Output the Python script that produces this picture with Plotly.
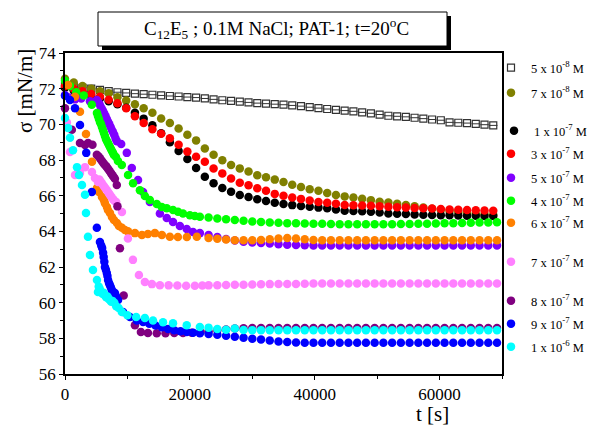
import plotly.graph_objects as go

W, H = 589, 426

# ---- time grids [s] ----
t_long = [0, 1400, 2800, 4200, 5600, 7000, 8400, 9800, 11200, 12600,
          14000, 15400, 16800, 18200, 19600, 21000, 22400, 23800, 25200, 26600,
          28000, 29400, 30800, 32200, 33600, 35000, 36400, 37800, 39200, 40600,
          42000, 43400, 44800, 46200, 47600, 49000, 50400, 51800, 53200, 54600,
          56000, 57400, 58800, 60200, 61600, 63000, 64400, 65800, 67200, 68600]

t_tail = [23000, 24400, 25800, 27200, 28600, 30000, 31400, 32800, 34200, 35600,
          37000, 38400, 39800, 41200, 42600, 44000, 45400, 46800, 48200, 49600,
          51000, 52400, 53800, 55200, 56600, 58000, 59400, 60800, 62200, 63600,
          65000, 66400, 67800, 69200]

# ---- surface tension [mN/m] ----
s_5e8 = [72.15, 72.1, 72.05, 72.0, 71.93, 71.86, 71.8, 71.76, 71.72, 71.69,
         71.66, 71.62, 71.59, 71.56, 71.53, 71.5, 71.45, 71.4, 71.35, 71.31,
         71.27, 71.23, 71.19, 71.16, 71.13, 71.1, 71.06, 71.02, 70.96, 70.91,
         70.86, 70.81, 70.77, 70.73, 70.67, 70.62, 70.55, 70.48, 70.45, 70.42,
         70.37, 70.32, 70.27, 70.23, 70.11, 70.09, 70.07, 70.03, 69.98, 69.94]

s_7e8 = [72.55, 72.35, 72.15, 72.0, 71.85, 71.75, 71.52, 71.33, 71.12, 70.9,
         70.65, 70.33, 70.07, 69.77, 69.42, 69.1, 68.65, 68.3, 67.98, 67.72,
         67.53, 67.36, 67.15, 67.03, 66.9, 66.77, 66.61, 66.48, 66.36, 66.27,
         66.15, 66.04, 65.96, 65.9, 65.83, 65.75, 65.66, 65.61, 65.55, 65.47,
         65.4, 65.33, 65.27, 65.21, 65.15, 65.09, 65.04, 64.99, 64.96, 64.93]

s_1e7 = [72.05, 71.9, 71.76, 71.6, 71.45, 71.3, 71.12, 70.93, 70.65, 70.32,
         69.95, 69.5, 69.0, 68.5, 68.05, 67.55, 67.06, 66.7, 66.43, 66.22,
         66.04, 65.92, 65.8, 65.7, 65.6, 65.53, 65.47, 65.42, 65.38, 65.33,
         65.29, 65.22, 65.16, 65.14, 65.12, 65.1, 65.05, 65.0, 64.99, 64.97,
         64.95, 64.93, 64.91, 64.9, 64.9, 64.89, 64.88, 64.87, 64.86, 64.86]

s_3e7 = [72.15, 72.0, 71.85, 71.7, 71.55, 71.38, 71.18, 70.9, 70.45, 70.08,
         69.73, 69.47, 69.22, 68.86, 68.47, 68.18, 67.9, 67.52, 67.25, 66.96,
         66.73, 66.58, 66.42, 66.27, 66.1, 65.99, 65.9, 65.82, 65.73, 65.65,
         65.6, 65.55, 65.48, 65.46, 65.45, 65.44, 65.41, 65.38, 65.35, 65.33,
         65.31, 65.29, 65.28, 65.25, 65.23, 65.21, 65.19, 65.18, 65.17, 65.15]

t_5e7 = [0, 700, 1600, 2600, 4000, 5100, 5300, 5500, 5700, 5900, 6100, 6300,
         6500, 6700, 6900, 7100, 7300, 7500, 7700, 7900, 8100, 8300, 9000, 9900,
         10700, 11700, 12500, 13600, 15200, 16300, 17300, 18400, 19500, 20500, 21600]
s_5e7 = [71.65, 71.5, 71.4, 71.45, 71.3, 71.36, 71.25, 71.15, 71.0, 70.87, 70.73, 70.6,
         70.45, 70.3, 70.15, 70.0, 69.85, 69.7, 69.55, 69.4, 69.2, 69.05, 68.9, 68.4,
         67.55, 66.88, 66.2, 65.64, 65.0, 64.75, 64.52, 64.3, 64.13, 63.96, 63.9,
         63.8, 63.68, 63.57, 63.48, 63.42, 63.38, 63.35, 63.32, 63.28, 63.25,
         63.23, 63.22, 63.21, 63.2, 63.2, 63.2, 63.2, 63.2, 63.2, 63.2,
         63.2, 63.2, 63.2, 63.2, 63.2, 63.2, 63.2, 63.2, 63.2, 63.2,
         63.2, 63.2, 63.2, 63.2]

t_4e7 = [0, 800, 1800, 3000, 4300, 5120, 5280, 5440, 5600, 5760, 5920, 6080,
         6240, 6400, 6560, 6720, 6880, 7040, 7200, 7360, 7520, 7680, 7840, 8160,
         8480, 9100, 10100, 10900, 12000, 12800, 13600, 14700, 15500, 16300, 17300,
         18100, 18900, 20000, 20800, 21600]
s_4e7 = [72.45, 72.15, 71.8, 71.62, 71.1, 70.63, 70.47, 70.3, 70.13, 70.02, 69.85, 69.68,
         69.51, 69.34, 69.18, 69.06, 68.95, 68.84, 68.73, 68.62, 68.5, 68.4, 68.28, 68.17,
         67.95, 67.72, 67.16, 66.7, 66.3, 65.98, 65.76, 65.53, 65.37, 65.3, 65.2,
         65.1, 65.0, 64.9, 64.86, 64.82,
         64.77, 64.72, 64.68, 64.63, 64.59, 64.55, 64.52, 64.5, 64.48, 64.46,
         64.45, 64.44, 64.43, 64.42, 64.41, 64.4, 64.4, 64.4, 64.4, 64.4,
         64.4, 64.4, 64.41, 64.41, 64.42, 64.43, 64.44, 64.45, 64.46, 64.47,
         64.48, 64.49, 64.5, 64.51]

t_6e7 = [480, 1600, 2400, 3360, 4320, 5120, 5440, 5920, 6240, 6400, 6720, 6880,
         7200, 7520, 7840, 8320, 8640, 9120, 9600, 10080, 11200, 12320, 13280,
         14400, 15520, 16800, 18080, 19520, 21120]
s_6e7 = [72.2, 71.55, 70.7, 69.46, 67.9, 66.43, 66.2, 65.93, 65.75, 65.58, 65.36, 65.2,
         65.03, 64.8, 64.63, 64.47, 64.3, 64.2, 64.07, 64.0, 63.9, 63.8, 63.85,
         63.9, 63.8, 63.7, 63.68, 63.68, 63.7,
         63.62, 63.58, 63.54, 63.5, 63.5, 63.5, 63.52, 63.56, 63.6, 63.62,
         63.6, 63.56, 63.52, 63.5, 63.5, 63.5, 63.5, 63.5, 63.5, 63.5,
         63.5, 63.5, 63.5, 63.5, 63.5, 63.5, 63.5, 63.5, 63.5, 63.5,
         63.5, 63.5, 63.5, 63.5]

t_7e7 = [300, 800, 1600, 2400, 3200, 4320, 4800, 5280, 5500, 5700, 5900, 6100,
         6300, 6500, 6700, 6900, 7100, 7300, 7500, 7700, 7900, 8200, 9120, 10080,
         10880, 11840, 12800, 13920, 15200, 16600, 18000, 19400, 20800, 22000]
s_7e7 = [70.1, 68.45, 67.16, 67.27, 67.6, 67.33, 66.99, 66.77, 66.9, 66.8, 66.7, 66.6,
         66.5, 66.4, 66.3, 66.2, 66.1, 66.0, 65.9, 65.8, 65.72, 65.64, 65.08, 63.6,
         62.4, 61.55, 61.16, 61.04, 60.98, 60.97, 60.96, 60.95, 60.95, 60.96,
         60.97, 60.98, 60.99, 61.0, 61.0, 61.02, 61.03, 61.04, 61.05, 61.05,
         61.05, 61.06, 61.08, 61.08, 61.08, 61.08, 61.08, 61.08, 61.08, 61.08,
         61.08, 61.08, 61.08, 61.08, 61.08, 61.08, 61.08, 61.08, 61.08, 61.08,
         61.08, 61.08, 61.08, 61.08]

t_8e7 = [0, 1100, 2400, 3200, 3700, 4400, 5100, 5400, 5600, 5800, 6000, 6200,
         6400, 6600, 6800, 7000, 7200, 7400, 7600, 7800, 8000, 8300, 8400, 8800,
         9400, 11200, 12160, 13280, 14700, 16100, 17500, 18900, 20300, 21700]
s_8e7 = [70.9, 69.7, 68.95, 68.84, 68.95, 68.85, 68.3, 68.2, 68.1, 68.0, 67.9, 67.8,
         67.72, 67.65, 67.55, 67.45, 67.35, 67.25, 67.15, 67.05, 66.95, 66.6, 65.4, 63.05,
         60.4, 58.74, 58.35, 58.3, 58.28, 58.28, 58.3, 58.3, 58.32, 58.35,
         58.4, 58.45, 58.5, 58.55, 58.57, 58.58, 58.58, 58.58, 58.58, 58.58,
         58.58, 58.58, 58.58, 58.58, 58.58, 58.58, 58.58, 58.58, 58.58, 58.58,
         58.58, 58.58, 58.58, 58.58, 58.58, 58.58, 58.58, 58.58, 58.58, 58.58,
         58.58, 58.58, 58.58, 58.58]

t_9e7 = [0, 800, 1600, 2400, 3400, 4300, 5100, 5600, 5800, 5950, 6100, 6200,
         6300, 6400, 6550, 6700, 6800, 6900, 7050, 7200, 7350, 7500, 7650, 8000,
         8200, 8500, 9300, 10400, 11500, 12500, 13500, 14500, 15500, 16500, 17500,
         18500, 19500, 20500, 21600]
s_9e7 = [71.6, 71.36, 70.9, 69.96, 68.4, 66.2, 64.2, 63.4, 63.2, 63.07, 62.8, 62.56,
         62.3, 62.0, 61.85, 61.66, 61.5, 61.27, 61.1, 60.98, 60.85, 60.7, 60.62, 60.54,
         60.35, 60.15, 59.48, 59.2, 59.0, 58.92, 58.82, 58.72, 58.62, 58.52, 58.45,
         58.4, 58.35, 58.32, 58.28,
         58.25, 58.2, 58.15, 58.09, 58.03, 57.98, 57.93, 57.88, 57.82, 57.79,
         57.76, 57.75, 57.75, 57.75, 57.75, 57.75, 57.75, 57.75, 57.75, 57.75,
         57.75, 57.75, 57.75, 57.75, 57.75, 57.75, 57.75, 57.75, 57.75, 57.75,
         57.75, 57.75, 57.75, 57.75]

t_1e6 = [0, 480, 800, 1280, 1920, 2240, 2720, 3200, 3360, 3680, 4000, 4480,
         5120, 5280, 5400, 5600, 5800, 6000, 6200, 6400, 6600, 6800, 7000, 7200,
         7400, 7600, 7900, 8200, 8600, 9100, 10000, 11400, 12800, 14100, 15700,
         17300, 19500, 21600]
s_1e6 = [70.35, 69.8, 69.25, 68.55, 67.6, 67.16, 66.6, 66.05, 65.03, 63.7, 62.67, 61.83,
         61.27, 60.6, 60.9, 60.75, 60.6, 60.5, 60.55, 60.4, 60.3, 60.35, 60.2, 60.15,
         60.05, 60.1, 60.0, 59.8, 59.7, 59.48, 59.3, 59.2, 59.14, 59.0, 58.9,
         58.85, 58.74, 58.63,
         58.6, 58.52, 58.48, 58.55, 58.47, 58.46, 58.46, 58.45, 58.45, 58.45,
         58.45, 58.45, 58.45, 58.45, 58.45, 58.45, 58.45, 58.45, 58.45, 58.45,
         58.45, 58.45, 58.45, 58.45, 58.45, 58.45, 58.45, 58.45, 58.45, 58.45,
         58.45, 58.45, 58.45, 58.45]

# ---- labels, colours, legend rows ----
labels = ["5 x 10<sup>-8</sup> M", "7 x 10<sup>-8</sup> M", "1 x 10<sup>-7</sup> M",
          "3 x 10<sup>-7</sup> M", "5 x 10<sup>-7</sup> M", "4 x 10<sup>-7</sup> M",
          "6 x 10<sup>-7</sup> M", "7 x 10<sup>-7</sup> M", "8 x 10<sup>-7</sup> M",
          "9 x 10<sup>-7</sup> M", "1 x 10<sup>-6</sup> M"]
colors = ["#333333", "#808000", "#000000", "#ff0000", "#8000ff", "#00ff00",
          "#ff8000", "#ff80ff", "#800080", "#0000ff", "#00ffff"]
times = [t_long, t_long, t_long, t_long, t_5e7 + t_tail, t_4e7 + t_tail,
         t_6e7 + t_tail, t_7e7 + t_tail, t_8e7 + t_tail, t_9e7 + t_tail, t_1e6 + t_tail]
sigmas = [s_5e8, s_7e8, s_1e7, s_3e7, s_5e7, s_4e7, s_6e7, s_7e7, s_8e7, s_9e7, s_1e6]

legend_y_px = [68, 93, 131, 154, 178, 201, 223, 262, 301, 324, 347]
legend_x_px = [511, 511, 514, 511, 511, 511, 511, 511, 511, 511, 511]

x_ticks = [0, 20000, 40000, 60000]
x_ticktext = ["0", "20000", "40000", "60000"]
y_ticks = [56, 58, 60, 62, 64, 66, 68, 70, 72, 74]

SERIF = "Liberation Serif, Times New Roman, serif"

fig = go.Figure()

for i, (lab, col, tt, ss) in enumerate(zip(labels, colors, times, sigmas)):
    leg = "legend" if i == 0 else f"legend{i + 1}"
    if i == 0:
        marker = dict(symbol="square-open", size=7, color=col, line=dict(width=1.2, color=col))
    else:
        marker = dict(symbol="circle", size=8.5, color=col, line=dict(width=0))
    fig.add_trace(go.Scatter(x=tt, y=ss, mode="markers", name=lab, marker=marker,
                             legend=leg, cliponaxis=False))
    if i == 0:
        # inner bar of the boxed symbol
        fig.add_trace(go.Scatter(x=tt, y=ss, mode="markers", showlegend=False,
                                 marker=dict(symbol="line-ew", size=6,
                                             line=dict(width=1, color=col)),
                                 cliponaxis=False))

legends = {}
for i, (ypx, xpx) in enumerate(zip(legend_y_px, legend_x_px)):
    key = "legend" if i == 0 else f"legend{i + 1}"
    legends[key] = dict(x=(xpx - 20) / W, y=1 - ypx / H, xanchor="left", yanchor="middle",
                        bgcolor="rgba(0,0,0,0)", borderwidth=0, itemwidth=30,
                        font=dict(family=SERIF, size=12.5, color="black"))

axis_common = dict(showgrid=False, zeroline=False, showline=True, linecolor="black",
                   linewidth=1.5, mirror=True, ticks="outside", tickcolor="black",
                   tickwidth=1.2, ticklen=4, automargin=False,
                   tickfont=dict(family=SERIF, size=17, color="black"))

fig.update_layout(
    width=W, height=H,
    margin=dict(l=0, r=0, t=0, b=0, autoexpand=False),
    paper_bgcolor="white", plot_bgcolor="white",
    font=dict(family=SERIF, color="black"),
    xaxis=dict(domain=[65 / W, 502 / W], range=[0, 70000], tickmode="array",
               tickvals=x_ticks, ticktext=x_ticktext,
               minor=dict(dtick=10000, ticks="outside", ticklen=3, tickcolor="black"),
               **axis_common),
    yaxis=dict(domain=[1 - 374 / H, 1 - 53 / H], range=[56, 74], tickmode="array",
               tickvals=y_ticks,
               minor=dict(dtick=1, ticks="outside", ticklen=3, tickcolor="black"),
               **axis_common),
    **legends,
)

# title box with drop shadow
fig.add_shape(type="rect", xref="paper", yref="paper",
              x0=102 / W, x1=451 / W, y0=1 - 50 / H, y1=1 - 16 / H,
              fillcolor="black", line=dict(width=0))
fig.add_shape(type="rect", xref="paper", yref="paper",
              x0=98 / W, x1=447 / W, y0=1 - 46 / H, y1=1 - 12 / H,
              fillcolor="white", line=dict(width=1, color="black"))
fig.add_annotation(text="C<sub>12</sub>E<sub>5</sub> ; 0.1M NaCl; PAT-1; t=20<sup>o</sup>C",
                   xref="paper", yref="paper", x=276 / W, y=1 - 29 / H,
                   xanchor="center", yanchor="middle", showarrow=False,
                   font=dict(family=SERIF, size=19, color="black"))

# axis titles
fig.add_annotation(text="\u03c3 [mN/m]", xref="paper", yref="paper", x=25 / W, y=1 - 91 / H,
                   textangle=-90, xanchor="center", yanchor="middle", showarrow=False,
                   font=dict(family=SERIF, size=21, color="black"))
fig.add_annotation(text="t [s]", xref="paper", yref="paper", x=432 / W, y=1 - 414 / H,
                   xanchor="center", yanchor="middle", showarrow=False,
                   font=dict(family=SERIF, size=21, color="black"))

fig.write_html("out.html")
